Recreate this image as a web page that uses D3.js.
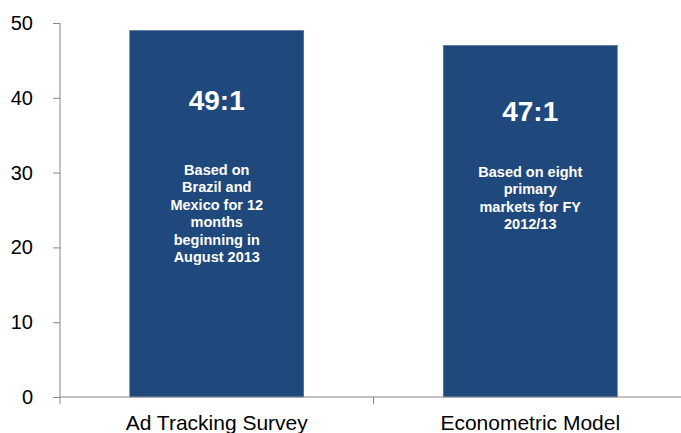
<!DOCTYPE html>
<html>
<head>
  <meta charset="UTF-8">
  <style>
    body {
      margin: 0;
      background-color: #ffffff;
      font-family: Arial, "Liberation Sans", sans-serif;
    }
    svg { display: block; }
    .axis path, .axis line { stroke: #868686; stroke-width: 1; }
    .axis text { fill: #000000; font-size: 20px; font-family: Arial, "Liberation Sans", sans-serif; }
  </style>
</head>
<body>
<svg></svg>
<script src="https://d3js.org/d3.v7.min.js"></script>
<script>
// chart data
let categories = ["Ad Tracking Survey", "Econometric Model"];
let values = [49, 47];
let ratioLabels = ["49:1", "47:1"];
let notes = [
  ["Based on", "Brazil and", "Mexico for 12", "months", "beginning in", "August 2013"],
  ["Based on eight", "primary", "markets for FY", "2012/13"]
];
let yTicks = [0, 10, 20, 30, 40, 50];

let width = 681, height = 433;

let svg = d3.select("svg")
    .attr("width", width)
    .attr("height", height);

let x = d3.scaleBand()
    .domain(categories)
    .range([60, 687])
    .paddingInner(0.445)
    .paddingOuter(0.2225);

let y = d3.scaleLinear()
    .domain([0, 50])
    .range([397, 23]);

// y axis
let yAxis = svg.append("g")
    .attr("class", "axis")
    .attr("transform", "translate(60,0)")
    .call(d3.axisLeft(y).tickValues(yTicks).tickSize(7).tickPadding(20).tickSizeOuter(0));
yAxis.select(".domain").attr("d", "M0," + y(50) + "V" + y(0));

// bars
svg.append("g")
    .selectAll("rect")
    .data(values)
    .enter()
    .append("rect")
    .attr("x", (d, i) => x(categories[i]))
    .attr("y", d => y(d))
    .attr("width", x.bandwidth())
    .attr("height", d => y(0) - y(d))
    .attr("fill", "#1f497d")
    .attr("stroke", "#4a6d99")
    .attr("stroke-width", 0.6);

// x axis (ticks between categories)
let xg = svg.append("g")
    .attr("class", "axis");
xg.append("line")
    .attr("x1", 60).attr("x2", width)
    .attr("y1", y(0)).attr("y2", y(0));
let step = x.step();
[60, 60 + step].forEach(px => {
  xg.append("line")
    .attr("x1", px).attr("x2", px)
    .attr("y1", y(0)).attr("y2", y(0) + 7);
});
xg.selectAll("text.cat")
    .data(categories)
    .enter()
    .append("text")
    .attr("class", "cat")
    .attr("x", d => x(d) + x.bandwidth() / 2)
    .attr("y", 430)
    .attr("text-anchor", "middle")
    .style("font-size", "21px")
    .text(d => d);

// ratio labels and notes inside bars
let ratioY = [110, 121];
let noteY = [175, 177];
let labels = svg.append("g");
categories.forEach((c, i) => {
  let cx = x(c) + x.bandwidth() / 2;
  labels.append("text")
    .attr("x", cx)
    .attr("y", ratioY[i])
    .attr("text-anchor", "middle")
    .attr("fill", "#ffffff")
    .attr("font-weight", "bold")
    .attr("font-size", 28)
    .text(ratioLabels[i]);
  let t = labels.append("text")
    .attr("text-anchor", "middle")
    .attr("fill", "#ffffff")
    .attr("font-weight", "bold")
    .attr("font-size", 14.5);
  notes[i].forEach((line, j) => {
    t.append("tspan")
      .attr("x", cx)
      .attr("y", noteY[i] + j * 17.4)
      .text(line);
  });
});
</script>
</body>
</html>
